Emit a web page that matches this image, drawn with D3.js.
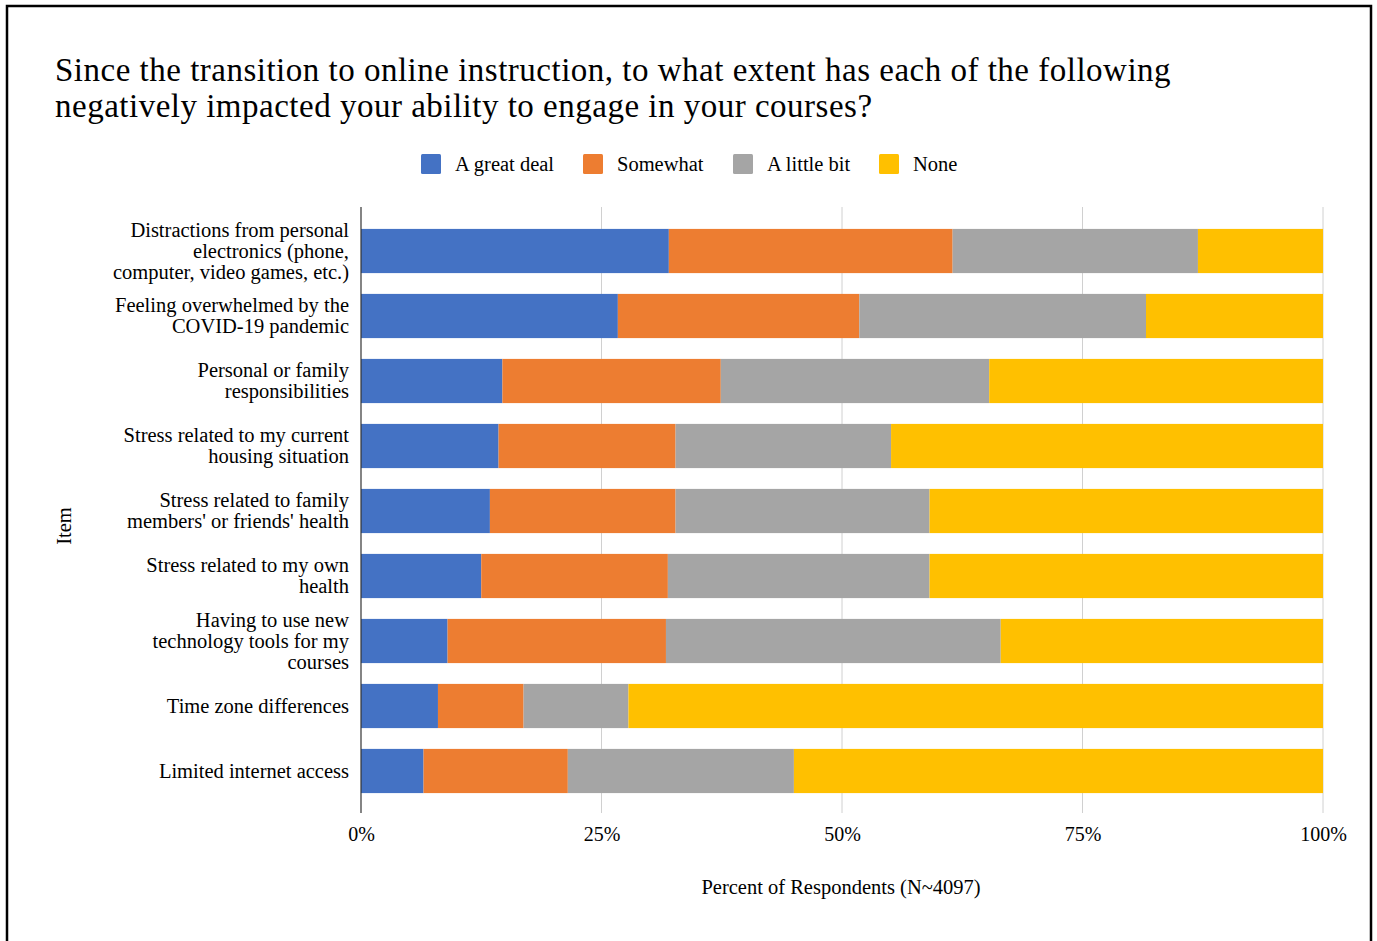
<!DOCTYPE html>
<html>
<head>
<meta charset="utf-8">
<script src="https://cdn.jsdelivr.net/npm/d3@7"></script>
<style>
  html, body { margin: 0; padding: 0; background: #fff; }
  svg text { font-family: "Liberation Serif", "Times New Roman", serif; fill: #000; }
</style>
</head>
<body>
<svg id="chart" width="1377" height="941"></svg>
<script>
// items, top to bottom (line breaks as in the original)
var items = [
  ["Distractions from personal", "electronics (phone,", "computer, video games, etc.)"],
  ["Feeling overwhelmed by the", "COVID-19 pandemic"],
  ["Personal or family", "responsibilities"],
  ["Stress related to my current", "housing situation"],
  ["Stress related to family", "members' or friends' health"],
  ["Stress related to my own", "health"],
  ["Having to use new", "technology tools for my", "courses"],
  ["Time zone differences"],
  ["Limited internet access"]
];

var seriesNames = ["A great deal", "Somewhat", "A little bit", "None"];
var seriesColors = ["#4472C4", "#ED7D31", "#A5A5A5", "#FFC000"];

// percent of respondents, one array per series
var greatDeal = [32.0, 26.7, 14.7, 14.3, 13.4, 12.5, 9.0, 8.0, 6.5];
var somewhat  = [29.5, 25.1, 22.7, 18.4, 19.3, 19.4, 22.7, 8.9, 15.0];
var littleBit = [25.5, 29.8, 27.9, 22.4, 26.4, 27.2, 34.8, 10.9, 23.5];
var none      = [13.0, 18.4, 34.7, 44.9, 40.9, 40.9, 33.5, 72.2, 55.0];

var xTicks = [0, 25, 50, 75, 100];

var svg = d3.select("#chart");

// frame
svg.append("rect")
  .attr("x", 7).attr("y", 6)
  .attr("width", 1364).attr("height", 945)
  .attr("fill", "none").attr("stroke", "#000").attr("stroke-width", 2.5);

// title
var title = svg.append("text").attr("x", 55).attr("font-size", 33)
  .attr("letter-spacing", 0.5);
title.append("tspan").attr("x", 55).attr("y", 81)
  .text("Since the transition to online instruction, to what extent has each of the following");
title.append("tspan").attr("x", 55).attr("y", 117)
  .text("negatively impacted your ability to engage in your courses?");

// legend
var legendX = [421, 583, 733, 879];
var legend = svg.selectAll(".legend")
  .data(seriesNames)
  .enter().append("g")
  .attr("class", "legend")
  .attr("transform", function(d, i) { return "translate(" + legendX[i] + ",154)"; });
legend.append("rect")
  .attr("width", 20).attr("height", 20).attr("rx", 1.5)
  .attr("fill", function(d, i) { return seriesColors[i]; });
legend.append("text")
  .attr("x", 34).attr("y", 17)
  .attr("font-size", 20.5)
  .text(function(d) { return d; });

// stacked data
var rows = items.map(function(it, i) {
  return { idx: i, vals: [greatDeal[i], somewhat[i], littleBit[i], none[i]] };
});
var keys = [0, 1, 2, 3];
var stacked = d3.stack()
  .keys(keys)
  .value(function(d, k) { return d.vals[k]; })(rows);

var x = d3.scaleLinear().domain([0, 100]).range([361, 1323]);
var y = d3.scaleBand()
  .domain(d3.range(items.length))
  .range([207, 815])
  .paddingInner(0.32)
  .paddingOuter(0.337);

// gridlines
svg.append("g").selectAll("line")
  .data(xTicks.slice(1))
  .enter().append("line")
  .attr("x1", function(d) { return x(d); })
  .attr("x2", function(d) { return x(d); })
  .attr("y1", 207).attr("y2", 813)
  .attr("stroke", "#d0d0d0").attr("stroke-width", 1);

// bars
svg.append("g").selectAll("g")
  .data(stacked)
  .enter().append("g")
  .attr("fill", function(d) { return seriesColors[d.key]; })
  .selectAll("rect")
  .data(function(d) { return d; })
  .enter().append("rect")
  .attr("x", function(d) { return x(d[0]); })
  .attr("width", function(d) { return x(d[1]) - x(d[0]); })
  .attr("y", function(d) { return y(d.data.idx); })
  .attr("height", y.bandwidth());

// zero axis line
svg.append("line")
  .attr("x1", x(0)).attr("x2", x(0))
  .attr("y1", 207).attr("y2", 813)
  .attr("stroke", "#333").attr("stroke-width", 1.2);

// x tick labels
var xAxis = svg.append("g")
  .attr("transform", "translate(0,826)")
  .call(d3.axisBottom(x).tickValues(xTicks).tickSize(0).tickPadding(0)
    .tickFormat(function(d) { return d + "%"; }));
xAxis.select(".domain").remove();
xAxis.selectAll("text")
  .attr("font-size", 20)
  .attr("dy", "0.75em")
  .style("font-family", "'Liberation Serif', serif")
  .attr("fill", "#000");

// y category labels
var lh = 21;
svg.append("g").selectAll("text")
  .data(items)
  .enter().append("text")
  .attr("text-anchor", "end")
  .attr("font-size", 20.5)
  .each(function(lines, i) {
    var cy = y(i) + y.bandwidth() / 2;
    var top = cy - (lines.length - 1) * lh / 2;
    d3.select(this).selectAll("tspan")
      .data(lines)
      .enter().append("tspan")
      .attr("x", 349)
      .attr("y", function(d, j) { return top + j * lh; })
      .attr("dy", "0.32em")
      .text(function(d) { return d; });
  });

// axis titles
svg.append("text")
  .attr("x", 841).attr("y", 894)
  .attr("text-anchor", "middle")
  .attr("font-size", 20.5)
  .text("Percent of Respondents (N~4097)");

svg.append("text")
  .attr("transform", "translate(71,526) rotate(-90)")
  .attr("text-anchor", "middle")
  .attr("font-size", 20.5)
  .text("Item");
</script>
</body>
</html>
